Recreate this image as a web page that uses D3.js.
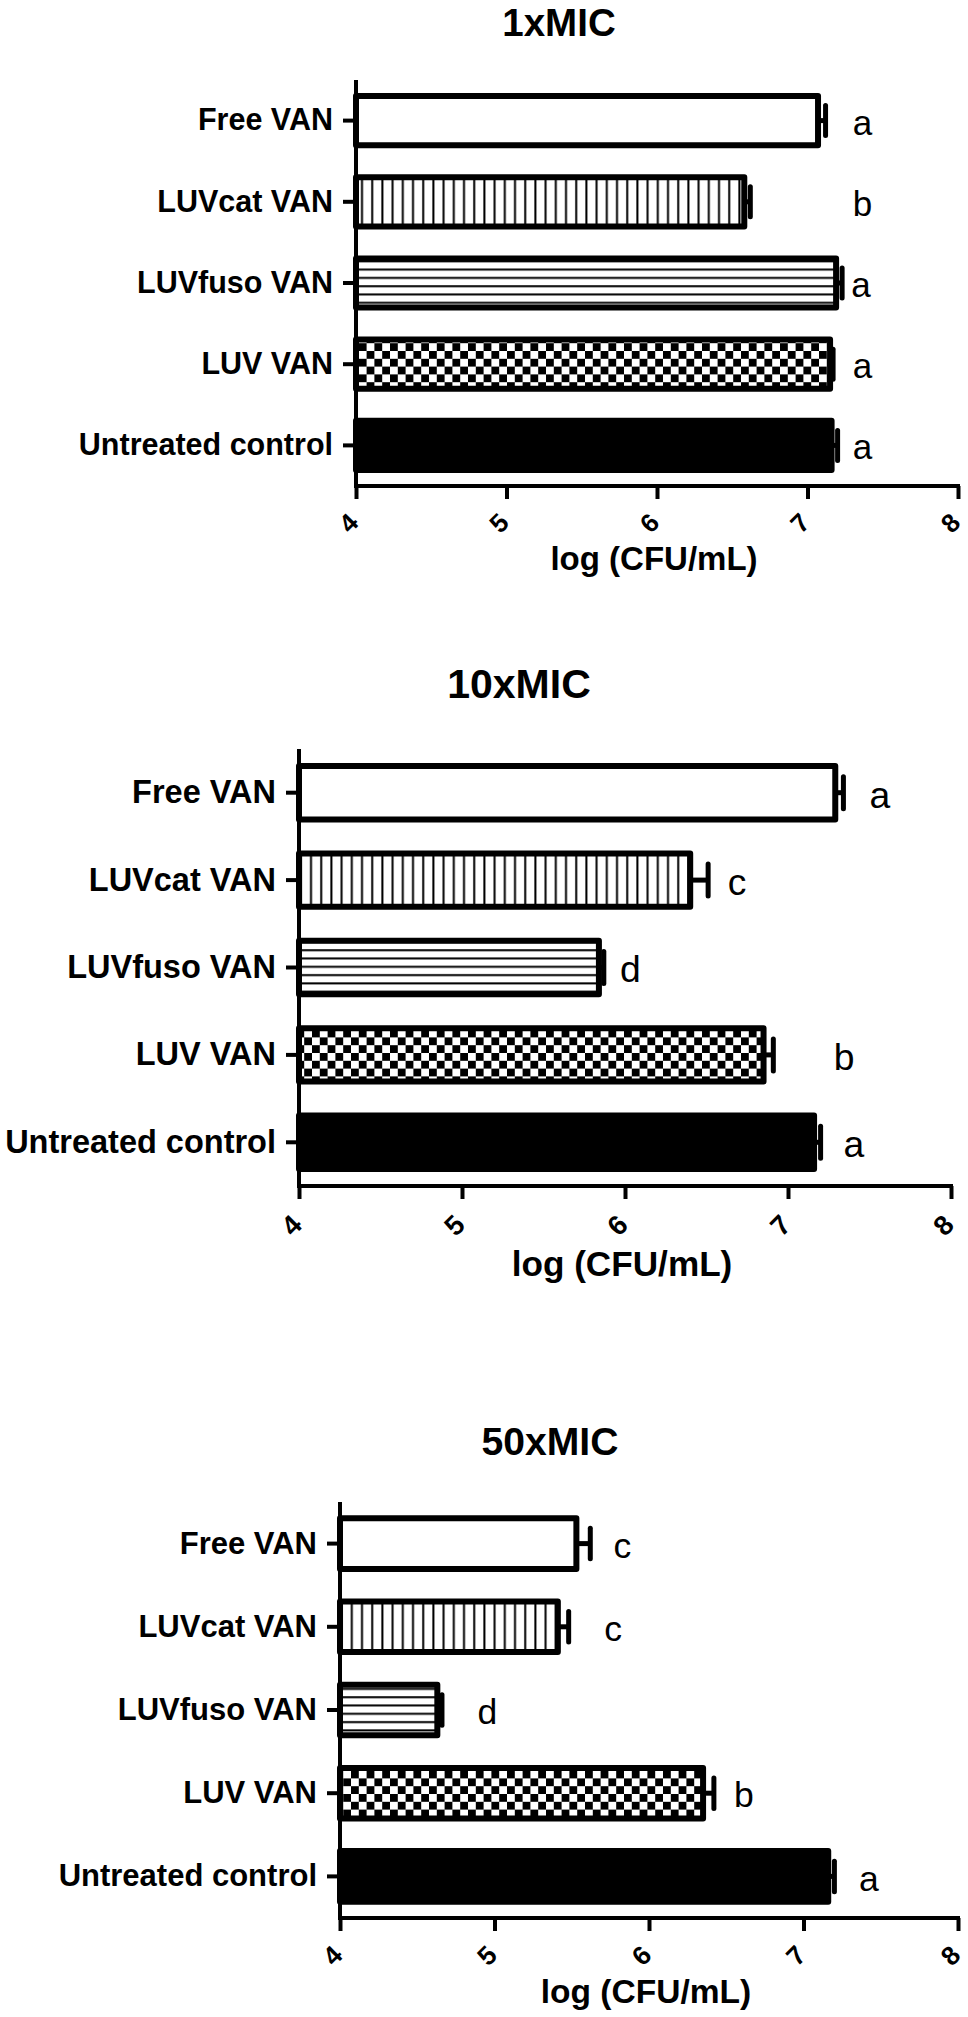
<!DOCTYPE html>
<html>
<head>
<meta charset="utf-8">
<script src="https://cdn.jsdelivr.net/npm/d3@7"></script>
<style>
  html, body { margin: 0; padding: 0; background: #fff; }
  svg { display: block; }
  text { font-family: "Liberation Sans", Arial, Helvetica, sans-serif; fill: #000; }
</style>
</head>
<body>
<svg id="chart" width="968" height="2017"></svg>
<script>
// ---------------- data ----------------
const categories = ["Free VAN", "LUVcat VAN", "LUVfuso VAN", "LUV VAN", "Untreated control"];
const panelTitles = ["1xMIC", "10xMIC", "50xMIC"];
const xTicks = [4, 5, 6, 7, 8];
const xTitle = "log (CFU/mL)";

const mean1 = [7.07, 6.58, 7.19, 7.15, 7.16];
const err1 = [0.05, 0.04, 0.04, 0.02, 0.04];
const letters1 = ["a", "b", "a", "a", "a"];
const letterAt1 = [7.30, 7.30, 7.29, 7.30, 7.30];

const mean10 = [7.29, 6.40, 5.84, 6.85, 7.16];
const err10 = [0.05, 0.11, 0.03, 0.06, 0.04];
const letters10 = ["a", "c", "d", "b", "a"];
const letterAt10 = [7.50, 6.63, 5.97, 7.28, 7.34];

const mean50 = [5.53, 5.41, 4.63, 6.35, 7.16];
const err50 = [0.09, 0.07, 0.03, 0.07, 0.04];
const letters50 = ["c", "c", "d", "b", "a"];
const letterAt50 = [5.77, 5.71, 4.89, 6.55, 7.36];

// fill style per category
const fills = ["white", "url(#vlines)", "url(#hlines)", "url(#checker)", "black"];

// ---------------- layout ----------------
const panels = [
  { title: panelTitles[0], means: mean1, errs: err1, letters: letters1, letterAt: letterAt1,
    left: 356, right: 958, top: 80, bottom: 486, titleX: 559, titleY: 36, fs: 30.5 },
  { title: panelTitles[1], means: mean10, errs: err10, letters: letters10, letterAt: letterAt10,
    left: 299, right: 951, top: 749, bottom: 1186, titleX: 519, titleY: 698, fs: 32.5 },
  { title: panelTitles[2], means: mean50, errs: err50, letters: letters50, letterAt: letterAt50,
    left: 340, right: 958, top: 1502, bottom: 1918, titleX: 550, titleY: 1455, fs: 31 }
];

const svg = d3.select("#chart");

// patterns
const defs = svg.append("defs");
const pv = defs.append("pattern").attr("id", "vlines").attr("patternUnits", "userSpaceOnUse")
  .attr("width", 10.2).attr("height", 10);
pv.append("rect").attr("width", 10.2).attr("height", 10).attr("fill", "white");
pv.append("rect").attr("x", 4).attr("y", 0).attr("width", 2).attr("height", 10).attr("fill", "black");

const ph = defs.append("pattern").attr("id", "hlines").attr("patternUnits", "userSpaceOnUse")
  .attr("width", 10).attr("height", 8.3);
ph.append("rect").attr("width", 10).attr("height", 8.3).attr("fill", "white");
ph.append("rect").attr("x", 0).attr("y", 3).attr("width", 10).attr("height", 2).attr("fill", "black");

const pc = defs.append("pattern").attr("id", "checker").attr("patternUnits", "userSpaceOnUse")
  .attr("width", 15.6).attr("height", 15.6);
pc.append("rect").attr("width", 15.6).attr("height", 15.6).attr("fill", "white");
pc.append("rect").attr("x", 0).attr("y", 0).attr("width", 7.8).attr("height", 7.8).attr("fill", "black");
pc.append("rect").attr("x", 7.8).attr("y", 7.8).attr("width", 7.8).attr("height", 7.8).attr("fill", "black");

panels.forEach(p => {
  const g = svg.append("g");
  const k = p.fs / 30.5;

  const x = d3.scaleLinear().domain([4, 8]).range([p.left, p.right]);
  const y = d3.scaleBand().domain(categories).range([p.top, p.bottom])
    .paddingInner(0.32).paddingOuter(0.16);

  // title
  g.append("text")
    .attr("x", p.titleX).attr("y", p.titleY)
    .attr("text-anchor", "middle")
    .style("font-weight", "bold").style("font-size", (38.5 * k) + "px")
    .text(p.title);

  const rows = categories.map((c, i) => ({ c, i, m: p.means[i], e: p.errs[i], l: p.letters[i], la: p.letterAt[i] }));

  // error bars
  const sw = 5;
  const capH = 30 * k;
  g.selectAll(".err-h").data(rows).join("line")
    .attr("x1", d => x(d.m)).attr("x2", d => x(d.m + d.e))
    .attr("y1", d => y(d.c) + y.bandwidth() / 2).attr("y2", d => y(d.c) + y.bandwidth() / 2)
    .attr("stroke", "black").attr("stroke-width", sw);
  g.selectAll(".err-c").data(rows).join("line")
    .attr("x1", d => x(d.m + d.e)).attr("x2", d => x(d.m + d.e))
    .attr("y1", d => y(d.c) + y.bandwidth() / 2 - capH / 2)
    .attr("y2", d => y(d.c) + y.bandwidth() / 2 + capH / 2)
    .attr("stroke", "black").attr("stroke-width", sw).attr("stroke-linecap", "round");

  // bars
  const bsw = 6;
  g.selectAll(".bar").data(rows).join("rect")
    .attr("x", x(4))
    .attr("y", d => y(d.c) + bsw / 2)
    .attr("width", d => x(d.m) - x(4))
    .attr("height", y.bandwidth() - bsw)
    .attr("fill", d => fills[d.i])
    .attr("stroke", "black").attr("stroke-width", bsw)
    .attr("stroke-linejoin", "round");

  // significance letters
  g.selectAll(".letter").data(rows).join("text")
    .attr("x", d => x(d.la))
    .attr("y", d => y(d.c) + y.bandwidth() / 2 + 14 * k)
    .style("font-size", (35 * k) + "px")
    .text(d => d.l);

  // y axis
  const yAxis = g.append("g").attr("transform", `translate(${p.left},0)`)
    .call(d3.axisLeft(y).tickSize(13).tickPadding(10).tickSizeOuter(0));
  yAxis.select(".domain").attr("stroke", "black").attr("stroke-width", 4)
    .attr("d", `M0,${p.top}V${p.bottom}`);
  yAxis.selectAll(".tick line").attr("stroke", "black").attr("stroke-width", 4);
  yAxis.selectAll(".tick text")
    .style("font-family", '"Liberation Sans", Arial, sans-serif')
    .style("font-weight", "bold").style("font-size", p.fs + "px")
    .attr("fill", "black");

  // x axis
  const xAxis = g.append("g").attr("transform", `translate(0,${p.bottom})`)
    .call(d3.axisBottom(x).tickValues(xTicks).tickFormat(d3.format("d")).tickSize(13).tickSizeOuter(0));
  xAxis.select(".domain").attr("stroke", "black").attr("stroke-width", 4)
    .attr("d", `M${p.left - 2},0H${p.right + 2}`);
  xAxis.selectAll(".tick line").attr("stroke", "black").attr("stroke-width", 4);
  xAxis.selectAll(".tick text")
    .attr("y", 0).attr("dy", null)
    .attr("text-anchor", "middle")
    .attr("dominant-baseline", "central")
    .attr("transform", `translate(-8,${37 * k}) rotate(-45)`)
    .style("font-family", '"Liberation Sans", Arial, sans-serif')
    .style("font-weight", "bold").style("font-size", (26 * k) + "px")
    .attr("fill", "black");

  // x title
  g.append("text")
    .attr("x", (p.left + p.right) / 2 - 3)
    .attr("y", p.bottom + 84 * k)
    .attr("text-anchor", "middle")
    .style("font-weight", "bold").style("font-size", (33 * k) + "px")
    .text(xTitle);
});
</script>
</body>
</html>
